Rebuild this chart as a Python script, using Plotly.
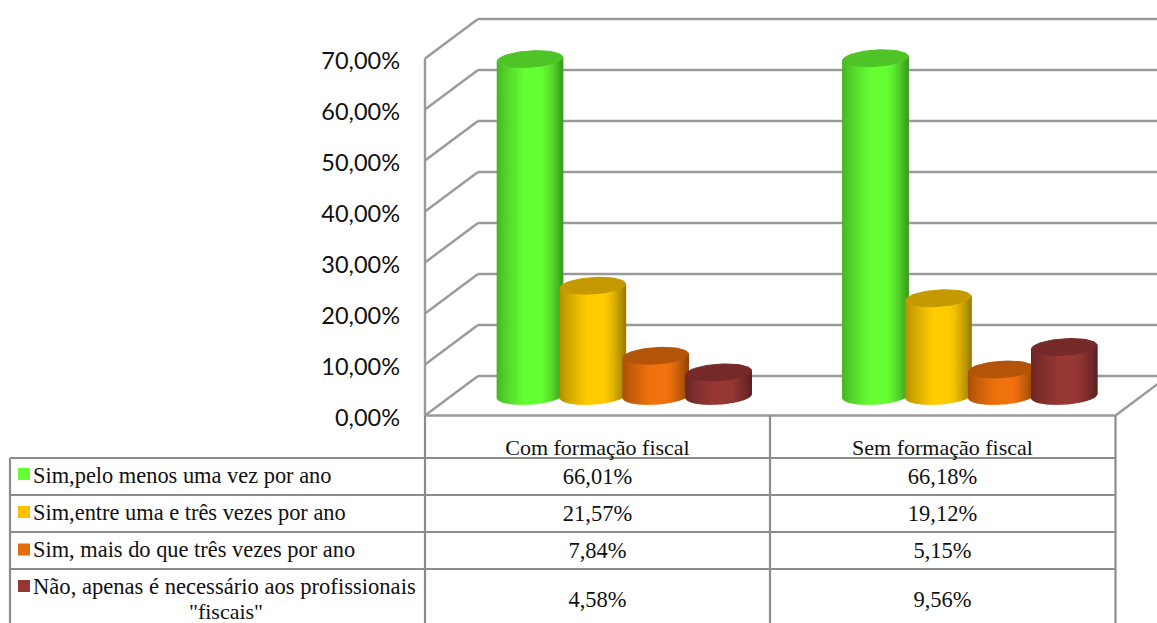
import math
import plotly.graph_objects as go

# ---- data ----
categories = ["Com formação fiscal", "Sem formação fiscal"]
series_names = [
    "Sim,pelo menos uma vez por ano",
    "Sim,entre uma e três vezes por ano",
    "Sim, mais do que três vezes por ano",
    "Não, apenas é necessário aos profissionais<br>\"fiscais\"",
]
sim_pelo_menos = [66.01, 66.18]
sim_entre = [21.57, 19.12]
sim_mais = [7.84, 5.15]
nao_apenas = [4.58, 9.56]
series_values = [sim_pelo_menos, sim_entre, sim_mais, nao_apenas]
tick_values = [0, 10, 20, 30, 40, 50, 60, 70]

# ---- style ----
body_colors = [(102, 255, 51), (255, 204, 0), (240, 114, 14), (152, 56, 54)]
top_colors = ["#4FC427", "#C59A00", "#B35408", "#752A29"]
key_colors = ["#66FF33", "#FFC000", "#E46C0A", "#953735"]
GRID = "#9A9A9A"
TABLE = "#8C8C8C"

W, H = 1157, 623
ZERO_PX, PX_PER = 415.5, 5.1
DX, DY = 53, 39.5


def v_of(px):
    return (ZERO_PX - px) / PX_PER


wx, wy = [], []


def seg(x0, y0, x1, y1):
    wx.extend([x0, x1, None])
    wy.extend([y0, y1, None])


fig = go.Figure()

# walls / floor
dv = DY / PX_PER
for t in tick_values:
    seg(425, t, 425 + DX, t + dv)
    seg(425 + DX, t + dv, 1115.5 + DX, t + dv)
seg(425, 0, 1115.5, 0)
seg(1115.5, 0, 1115.5 + DX, dv)
seg(425, 0, 425, 70)
fig.add_trace(go.Scatter(x=wx, y=wy, mode="lines", line=dict(color=GRID, width=2.4), hoverinfo="skip"))

# table lines
tx, ty = [], []
for px in (458, 495, 532, 569):
    tx.extend([10, 1115.5, None])
    ty.extend([v_of(px), v_of(px), None])
for x, top in ((10, 458), (425, 415.5), (770, 415.5), (1115.5, 415.5)):
    tx.extend([x, x, None])
    ty.extend([v_of(top), v_of(H), None])
fig.add_trace(go.Scatter(x=tx, y=ty, mode="lines", line=dict(color=TABLE, width=2.2), hoverinfo="skip"))

# cylinders
A, B, S = 32.6, 8.2, 2.0
BASE = dv / 2
group_left = [530.0, 875.5]
STEP = 62.9
N = 40


def shade(u):
    if u < -0.15:
        f = 0.70 + 0.30 * ((u + 1) / 0.85) ** 0.8
    elif u > 0.35:
        f = 1 - 0.38 * ((u - 0.35) / 0.65) ** 1.4
    else:
        f = 1.0
    return f


for g, cx0 in enumerate(group_left):
    for s, vals in enumerate(series_values):
        v = vals[g]
        cx = cx0 + STEP * s
        top = v + BASE
        for i in range(N):
            t0, t1 = math.pi * (1 - i / N), math.pi * (1 - (i + 1) / N)
            u0, u1 = math.cos(t0), math.cos(t1)
            xs = [cx + A * u0, cx + A * u1, cx + A * u1, cx + A * u0, cx + A * u0]
            ys = [
                BASE - (B * math.sin(t0) - S * u0) / PX_PER,
                BASE - (B * math.sin(t1) - S * u1) / PX_PER,
                top + (S * u1) / PX_PER,
                top + (S * u0) / PX_PER,
                BASE - (B * math.sin(t0) - S * u0) / PX_PER,
            ]
            f = shade((u0 + u1) / 2)
            r, gg, b = body_colors[s]
            col = f"rgb({int(r * f)},{int(gg * f)},{int(b * f)})"
            fig.add_trace(go.Scatter(x=xs, y=ys, mode="lines", fill="toself", fillcolor=col,
                                     line=dict(color=col, width=1.3), hoverinfo="skip"))
        ex, ey = [], []
        for k in range(61):
            t = 2 * math.pi * k / 60
            ex.append(cx + A * math.cos(t))
            ey.append(top - (B * math.sin(t) - S * math.cos(t)) / PX_PER)
        fig.add_trace(go.Scatter(x=ex, y=ey, mode="lines", fill="toself", fillcolor=top_colors[s],
                                 line=dict(color=top_colors[s], width=1), hoverinfo="skip"))

# table text
FONT = "Liberation Serif"
TS = 22
VS = 22.5
INK = "#111111"
fig.add_trace(go.Scatter(x=[597.5, 942.5], y=[v_of(449), v_of(449)], mode="text", text=categories,
                         textposition="middle center", textfont=dict(family=FONT, size=TS, color=INK),
                         hoverinfo="skip"))
row_px = [478, 515, 552, 601]
for s, vals in enumerate(series_values):
    fig.add_trace(go.Scatter(x=[597.5, 942.5], y=[v_of(row_px[s])] * 2, mode="text",
                             text=[f"{x:.2f}".replace(".", ",") + "%" for x in vals],
                             textposition="middle center", textfont=dict(family=FONT, size=VS, color=INK),
                             hoverinfo="skip"))
label_px = [477, 514, 551]
for s in range(3):
    fig.add_trace(go.Scatter(x=[33], y=[v_of(label_px[s])], mode="text", text=[series_names[s]],
                             textposition="middle right", textfont=dict(family=FONT, size=TS + 0.4, color=INK),
                             hoverinfo="skip"))
first, second = series_names[3].split("<br>")
fig.add_trace(go.Scatter(x=[33], y=[v_of(588)], mode="text", text=[first], textposition="middle right",
                         textfont=dict(family=FONT, size=TS + 0.6, color=INK), hoverinfo="skip"))
fig.add_trace(go.Scatter(x=[226], y=[v_of(613)], mode="text", text=[second], textposition="middle center",
                         textfont=dict(family=FONT, size=TS, color=INK), hoverinfo="skip"))
# legend keys
fig.add_trace(go.Scatter(x=[24] * 4, y=[v_of(p) for p in (474, 512, 549.5, 586)], mode="markers",
                         marker=dict(symbol="square", size=12, color=key_colors, line=dict(width=0)),
                         hoverinfo="skip"))
# invisible carrier for the value axis that holds the tick labels
fig.add_trace(go.Scatter(x=[0], y=[0], yaxis="y2", mode="markers", marker=dict(opacity=0), hoverinfo="skip"))

LABEL_SHIFT = 2 / PX_PER
fig.update_layout(
    width=W, height=H, autosize=False,
    margin=dict(l=0, r=0, t=0, b=0),
    paper_bgcolor="white", plot_bgcolor="white",
    showlegend=False,
    xaxis=dict(range=[0, W], visible=False, fixedrange=True),
    yaxis=dict(range=[v_of(H), v_of(0)], visible=False, fixedrange=True),
    yaxis2=dict(range=[v_of(H) + LABEL_SHIFT, v_of(0) + LABEL_SHIFT], overlaying="y",
                anchor="free", position=400 / W, side="left",
                tickmode="array", tickvals=tick_values,
                ticktext=[f"{t:.2f}".replace(".", ",") + "%" for t in tick_values],
                showgrid=False, zeroline=False, showline=False, ticks="", fixedrange=True,
                tickfont=dict(family="Lato", size=23.5, color="#111111")),
)
fig.write_html("out.html", config={"displayModeBar": False, "responsive": False},
               post_script="document.body.style.margin='0';document.documentElement.style.overflow='hidden';")
